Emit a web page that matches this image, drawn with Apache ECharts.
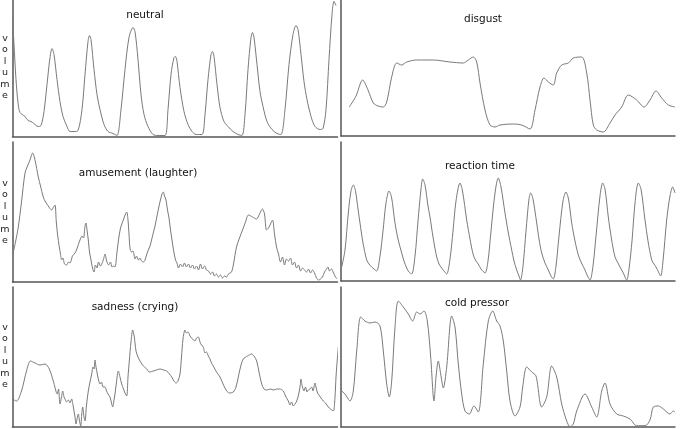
<!DOCTYPE html>
<html><head><meta charset="utf-8">
<script src="https://cdn.jsdelivr.net/npm/echarts@6/dist/echarts.min.js"></script>
<style>html,body{margin:0;padding:0;background:#fff}#c{width:680px;height:429px}</style>
</head><body><div id="c"></div>
<script>
// Panel titles
const titles = ['neutral','disgust','amusement (laughter)','reaction time','sadness (crying)','cold pressor'];
const axisLabel = 'volume';

// [time, volume] traces (arbitrary units)
const neutral = [[0,120],[1.5,92],[3.5,57],[5.5,34],[7.5,24],[12.5,20],[15.5,16],[18.5,15],[21.5,13],[25.5,10],[28.5,11],[31.5,25],[34.5,52],[37.5,79],[39.5,88],[41.5,82],[44.5,57],[47.5,35],[50.5,20],[54.5,10],[57.5,5],[61.5,5],[65.5,6],[69.5,27],[72.5,62],[75.5,95],[77,101],[78.5,97],[81.5,67],[84.5,42],[87.5,27],[91.5,12],[95.5,5],[100.5,3],[104.5,1],[108.5,27],[112.5,67],[116.5,99],[120.5,109],[122.5,105],[125.5,77],[128.5,42],[131.5,22],[135.5,10],[140.5,2],[145.5,1],[152.5,1],[155.5,27],[158.5,62],[161.5,79],[163,80],[164.5,75],[167.5,49],[171.5,25],[175.5,12],[179.5,5],[183.5,2],[189.5,2],[192.5,22],[195.5,57],[198.5,82],[200,85],[201.5,80],[204.5,52],[207.5,29],[211.5,15],[215.5,10],[220.5,5],[225.5,2],[229.5,1],[232.5,22],[235.5,67],[238.5,99],[240,104],[241.5,99],[244.5,72],[247.5,45],[250.5,30],[254.5,15],[259.5,7],[264.5,3],[268.5,2],[272.5,27],[276.5,72],[280.5,102],[283.5,111],[285.5,107],[288.5,82],[291.5,55],[294.5,37],[298.5,20],[302.5,10],[307.5,7],[310.5,8],[313.5,27],[316.5,77],[319.5,122],[321.5,135],[323.5,131]];

const disgust = [[8.3,29],[15,40],[21.7,56],[27,46],[32.3,33],[37,30],[42.3,29],[45.7,34],[50.7,59],[55.7,73],[60.7,71],[65.7,74],[75.7,76],[92.3,76],[109,74],[122.3,73],[127.3,76],[132.3,79],[135.7,74],[139,53],[144,26],[149,11],[154,9],[159,11],[172.3,12],[180.7,11],[189,7],[194,26],[199,49],[203,58],[207.3,54],[212.3,51],[215.7,63],[220.7,71],[227.3,73],[232.3,78],[240.7,79],[245.7,63],[249,36],[252.3,11],[255.7,6],[262.3,4],[269,13],[274,21],[280.7,29],[287.3,41],[295.7,36],[303,29],[309,36],[315,45],[320.7,38],[327.3,31],[334,29]];

const amusement = [[0.2,27],[3,40],[5.8,55],[9,80],[12.5,109],[15,116],[17.5,122],[20.2,129],[22.5,122],[25.8,105],[28,96],[30.8,85],[33,80],[35.8,76],[37,74],[39.2,72],[41,75],[42.5,77],[43.8,60],[45,48],[46.8,35],[48,28],[49.2,22],[50.5,24],[52,18],[54.2,17],[56,20],[57.5,19],[60,26],[62.5,29],[64,32],[66,38],[67.5,42],[69.5,46],[71,44],[72.5,56],[73.5,59],[74.5,52],[75.8,42],[77,30],[78.5,22],[80,14],[81.5,10],[83,17],[84.5,14],[86,20],[88,16],[90.8,22],[92.5,28],[94.2,21],[96,17],[98,20],[99.5,15],[101,16],[102.5,15],[104.5,30],[106,42],[108,54],[110.8,62],[113,68],[114.2,70],[115.5,62],[116.5,48],[117.5,34],[119,30],[120.5,31],[122.5,23],[124,26],[126,22],[127.5,24],[129,21],[131,20],[132.5,22],[135,30],[137.5,36],[140,46],[142.5,56],[144.5,66],[147,78],[149.5,88],[150.8,90],[152,86],[153.5,82],[155,72],[156.5,64],[158,52],[159.5,42],[161,32],[163,22],[164.5,19],[166,14],[168,18],[170,15],[172,19],[174,15],[176,18],[178,14],[180,17],[182,13],[184,16],[186,12],[188,18],[190,13],[192,16],[194,12],[196,11],[198,8],[200,10],[202,6],[204,8],[206,5],[208,7],[210,4],[212,6],[214,5],[216,8],[219,10],[221,18],[224,35],[227,44],[230,52],[233,60],[236,67],[240,65],[244,63],[247,68],[250,73],[252,68],[254,52],[256,54],[258,58],[260,62],[262,48],[264,35],[266,28],[268,20],[270,25],[272,17],[274,23],[276,21],[278,24],[280,17],[282,20],[284,14],[286,17],[288,11],[290,14],[292,12],[294,10],[296,13],[298,9],[300,12],[302,9],[304,4],[306,2],[308,3],[310,5],[312,10],[314,13],[315.5,15],[317,11],[319,13],[321,9],[323,5],[324.5,3]];

const reaction = [[0.7,14],[4,31],[7.3,68],[10,90],[12.3,96],[14.5,90],[17,72],[19,58],[22,38],[25.7,21],[28,17],[30.7,14],[33,12],[35.7,10],[39,25],[42,50],[45,78],[48,90],[50.5,84],[54,58],[57,42],[60.7,28],[63,20],[65.7,13],[68,9],[70.7,7],[74,25],[77,60],[80,92],[81.7,102],[84,96],[87,75],[89,64],[92,44],[95.7,24],[98,17],[100.7,13],[103,10],[105.7,7],[109,22],[112,50],[115,80],[119,98],[121.5,90],[125.7,61],[129,42],[132.3,26],[135,20],[137.3,17],[140,12],[144,8],[147,20],[150,50],[154,88],[157.3,103],[160,94],[164,68],[167,50],[170.7,31],[173,20],[175.7,11],[178,5],[179.5,1],[182,15],[185,50],[188,82],[189.7,88],[192,82],[195.7,58],[198,42],[200.7,28],[204,18],[207.3,11],[210,5],[212.3,2],[215,15],[218,45],[222,80],[225,89],[227.5,82],[230.7,58],[234,40],[237.3,26],[240.5,18],[244,11],[246.5,5],[249,1],[252,15],[255,45],[259,85],[261.7,98],[264,92],[267.3,64],[270.5,42],[274,24],[277,18],[279,14],[282.3,8],[285.7,1],[288,12],[291,40],[294,78],[297.3,98],[300,92],[304,61],[307,40],[310.7,21],[313,17],[315,14],[317.5,9],[319.7,5],[322,20],[325.7,61],[329,85],[331.7,94],[334,88]];

const sadness = [[0,28],[4,26],[9,36],[14,56],[18,66],[22.5,64],[27.5,62],[32.5,63],[36.8,58],[40.8,46],[44.8,33],[46,38],[47.5,23],[49,30],[50.2,36],[51.5,30],[52.5,28],[54,25],[55.8,27],[57.5,24],[59.2,28],[60.5,22],[61.5,16],[62.5,10],[63.5,3],[64.5,8],[65.8,13],[67,6],[68.2,1],[69.2,12],[70.2,20],[71.5,10],[72.5,6],[74,22],[75.8,36],[77.5,45],[79.2,53],[80.5,60],[81.5,58],[82.5,67],[83.5,60],[84.8,53],[86,47],[87.5,43],[89,45],[90.5,40],[92.5,40],[94,36],[95.5,33],[97.5,30],[99,24],[100.2,20],[101.5,27],[102.5,33],[104,45],[105.8,56],[107.5,50],[109.2,43],[111,38],[112.5,34],[114.2,31],[115.5,50],[116.8,66],[118.5,85],[120.2,97],[121.8,90],[123.5,76],[125.5,70],[127.5,66],[130,62],[132,60],[134.2,58],[137,55],[140.8,56],[144,57],[147.5,58],[151,57],[154.2,56],[157,53],[159.2,50],[161.5,46],[163.5,44],[165.5,46],[167.5,53],[169,70],[170.5,88],[172.5,97],[174,94],[175.5,95],[177.5,91],[179,89],[181,87],[182.5,86],[184,89],[185.8,90],[187.5,85],[189,82],[190.8,80],[192.5,74],[194,75],[195.8,71],[197.5,68],[199,64],[200.8,61],[204,55],[207.5,50],[211,42],[214.2,36],[217,34],[220.8,35],[223.5,40],[225.8,50],[228,60],[230.8,68],[235,71],[239.2,73],[241.5,71],[244.2,66],[246.5,55],[249.2,43],[251.5,38],[254.2,37],[258,38],[261,37],[264.2,38],[267,38],[270.8,36],[273,31],[275.8,26],[277.5,22],[279,25],[280.8,21],[282.5,23],[284.2,26],[286,32],[287.5,40],[288.5,48],[289.5,42],[291.5,36],[293,40],[294.5,35],[295.8,37],[297.5,38],[299.2,40],[300.5,36],[302.5,44],[303.5,40],[305,34],[306.5,32],[308.5,29],[310.8,26],[313,24],[315.8,20],[318,18],[320.8,16],[322.5,30],[323.5,50],[325,70],[325.8,80]];

const cold = [[0.7,36],[4,33],[9,26],[12.3,36],[15.7,76],[19.7,110],[24,106],[29,104],[34,105],[39,101],[42.3,76],[45.7,43],[48.3,30],[50.7,46],[54,100],[57.3,126],[62.3,120],[67.3,113],[71.7,106],[75.7,115],[79,113],[83,116],[86.3,106],[89.7,70],[93,26],[95,50],[97.3,66],[99.7,53],[102.3,39],[105.7,60],[110.7,111],[114,100],[117.3,63],[120.7,33],[124,16],[128.3,13],[133,21],[137.3,15],[142.3,63],[147.3,106],[151.7,116],[155.7,106],[159,101],[162.3,86],[165.7,56],[169,26],[174,11],[179,20],[181.7,40],[185.7,60],[190.7,55],[195,51],[200.7,20],[205.7,30],[210.7,61],[215.7,50],[220.7,23],[225.7,6],[229,0.3],[232.3,3],[235.7,16],[244,33],[250.7,20],[255.7,10],[260.7,36],[264,44],[269,23],[275.7,13],[282.3,11],[289,8],[295.7,1.3],[304,1.3],[309,7],[312.3,20],[317.3,21],[322.3,18],[329,13],[332.3,16],[334,15]];

const traces = [neutral, disgust, amusement, reaction, sadness, cold];

const grids = [
  {left:12.5, top:0.5, width:325, height:136},
  {left:341, top:0.5, width:334, height:135.5},
  {left:12.5, top:142, width:325, height:140},
  {left:341, top:142, width:334, height:139},
  {left:12.5, top:287, width:325, height:140},
  {left:341, top:287, width:334, height:140}
];
const titlePos = [[145,15],[483,19],[138,173],[480,166],[135,307],[477,303]];
const volPos = [[5,67],[5,212],[5,356]];

const axisStyle = {show:true, lineStyle:{color:'#555', width:1.5}};
const option = {
  backgroundColor:'#fff',
  animation:false,
  grid: grids.map(g=>Object.assign({containLabel:false}, g)),
  xAxis: grids.map((g,i)=>({type:'value', gridIndex:i, min:0, max:g.width, axisLine:axisStyle, axisTick:{show:false}, axisLabel:{show:false}, splitLine:{show:false}})),
  yAxis: grids.map((g,i)=>({type:'value', gridIndex:i, min:0, max:g.height, axisLine:axisStyle, axisTick:{show:false}, axisLabel:{show:false}, splitLine:{show:false}})),
  series: traces.map((d,i)=>({type:'line', xAxisIndex:i, yAxisIndex:i, data:d, showSymbol:false, smooth:0.3, lineStyle:{color:'#7a7a7a', width:1}, silent:true})),
  graphic: titles.map((t,i)=>({type:'text', x:titlePos[i][0], y:titlePos[i][1], style:{text:t, font:'10.5px "DejaVu Sans"', fill:'#111', textAlign:'center', textVerticalAlign:'middle'}}))
    .concat(volPos.map(p=>({type:'text', x:p[0], y:p[1], style:{text:axisLabel.split('').join('\n'), font:'9.5px "DejaVu Sans"', lineHeight:11.5, fill:'#222', textAlign:'center', textVerticalAlign:'middle'}})))
};
echarts.init(document.getElementById('c')).setOption(option);
</script></body></html>
